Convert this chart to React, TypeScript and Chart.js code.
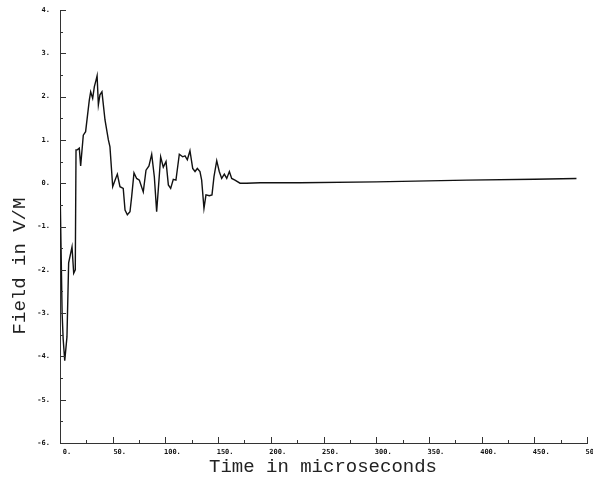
import React, { useEffect, useRef } from "react";
import { Chart, registerables } from "chart.js";

Chart.register(...registerables);

const times = [
  0, 1, 2, 3, 4.5, 6.6, 8.2, 11.4, 13, 14.5, 15.2, 16.4, 18.3, 19.6, 22.1, 24.3, 27.8, 29.1, 31, 32.6,
  34.2, 35.2, 36.4, 37.9, 39.8, 42.7, 45.9, 47.4, 50, 52.2, 54.4, 56.9, 60, 61.7, 63.9, 66.4, 68,
  70.2, 72.7, 75.3, 79, 81.6, 84.4, 87, 89.5, 91.7, 93.9, 95.5, 98, 100.6, 102.8, 105, 107.5, 110,
  113.2, 116.4, 118.6, 120.8, 123.3, 125.9, 128.1, 130.3, 132.8, 134.4, 136.6, 138.5, 141.7, 144.2,
  146.1, 148.7, 151.1, 153.4, 155.9, 158.2, 160.7, 162.9, 166, 170.8, 177, 190, 228, 300, 386, 450, 490,
];
const field = [
  0, -1.5, -3.0, -3.6, -4.1, -3.55, -1.84, -1.47, -2.08, -2.0, 0.77, 0.77, 0.81, 0.4, 1.11, 1.19, 1.92,
  2.11, 1.96, 2.23, 2.38, 2.48, 1.81, 2.04, 2.11, 1.46, 1.0, 0.84, -0.08, 0.07, 0.21, -0.08, -0.12,
  -0.62, -0.73, -0.66, -0.31, 0.24, 0.11, 0.07, -0.2, 0.3, 0.4, 0.67, 0.15, -0.66, 0.07, 0.61, 0.37,
  0.5, -0.04, -0.12, 0.09, 0.07, 0.67, 0.61, 0.63, 0.54, 0.75, 0.34, 0.27, 0.34, 0.27, 0.07, -0.58,
  -0.27, -0.29, -0.27, 0.15, 0.52, 0.27, 0.11, 0.21, 0.11, 0.27, 0.11, 0.07, 0.0, 0.0, 0.01, 0.01,
  0.03, 0.07, 0.09, 0.11,
];
const xTicks = [0, 50, 100, 150, 200, 250, 300, 350, 400, 450, 500];
const yTicks = [4, 3, 2, 1, 0, -1, -2, -3, -4, -5, -6];
const xTitle = "Time in microseconds";
const yTitle = "Field in V/M";

const axisPlugin = {
  id: "plotterAxes",
  afterDraw(chart: any) {
    const ctx = chart.ctx;
    const xs = chart.scales.x;
    const ys = chart.scales.y;
    const area = chart.chartArea;
    ctx.save();
    ctx.strokeStyle = "#333";
    ctx.lineWidth = 1;
    // y ticks (inward), major + half
    for (let i = 0; i < yTicks.length; i++) {
      const v = yTicks[i];
      const py = Math.round(ys.getPixelForValue(v)) + 0.5;
      ctx.beginPath();
      ctx.moveTo(area.left, py);
      ctx.lineTo(area.left + 6, py);
      ctx.stroke();
      if (i < yTicks.length - 1) {
        const ph = Math.round(ys.getPixelForValue(v - 0.5)) + 0.5;
        ctx.beginPath();
        ctx.moveTo(area.left, ph);
        ctx.lineTo(area.left + 3, ph);
        ctx.stroke();
      }
    }
    // x ticks (inward)
    for (let i = 0; i < xTicks.length; i++) {
      const v = xTicks[i];
      const px = Math.round(xs.getPixelForValue(v)) + 0.5;
      ctx.beginPath();
      ctx.moveTo(px, area.bottom);
      ctx.lineTo(px, area.bottom - 6);
      ctx.stroke();
      if (i < xTicks.length - 1) {
        const pm = Math.round(xs.getPixelForValue(v + 25)) + 0.5;
        ctx.beginPath();
        ctx.moveTo(pm, area.bottom);
        ctx.lineTo(pm, area.bottom - 3);
        ctx.stroke();
      }
    }
    // tick labels
    ctx.fillStyle = "#111";
    ctx.font = "bold 7px 'DejaVu Sans Mono'";
    ctx.textBaseline = "middle";
    ctx.textAlign = "right";
    for (const v of yTicks) {
      ctx.fillText(v + ".", area.left - 10, ys.getPixelForValue(v));
    }
    ctx.textAlign = "center";
    for (const v of xTicks) {
      ctx.fillText(v + ".", xs.getPixelForValue(v) + 7, area.bottom + 9);
    }
    // titles
    ctx.font = "19px 'Liberation Mono'";
    ctx.fillStyle = "#222";
    ctx.textAlign = "center";
    ctx.textBaseline = "middle";
    ctx.fillText(xTitle, 323, 467);
    ctx.translate(20, 266);
    ctx.rotate(-Math.PI / 2);
    ctx.fillText(yTitle, 0, 0);
    ctx.restore();
  },
};

export default function App() {
  const ref = useRef<HTMLCanvasElement | null>(null);
  useEffect(() => {
    if (!ref.current) return;
    const chart = new Chart(ref.current, {
      type: "line",
      data: {
        datasets: [
          {
            data: times.map((t, i) => ({ x: t, y: field[i] })),
            borderColor: "#111",
            borderWidth: 1.4,
            pointRadius: 0,
            tension: 0,
            fill: false,
          },
        ],
      },
      options: {
        animation: false,
        responsive: false,
        layout: { padding: { top: 10, right: 6, left: 0, bottom: 0 } },
        plugins: { legend: { display: false }, tooltip: { enabled: false } },
        scales: {
          x: {
            type: "linear",
            min: 0,
            max: 500,
            grid: { display: false },
            ticks: { display: false },
            border: { display: true, color: "#333", width: 1 },
            afterFit: (s: any) => {
              s.height = 41;
            },
          },
          y: {
            type: "linear",
            min: -6,
            max: 4,
            grid: { display: false },
            ticks: { display: false },
            border: { display: true, color: "#333", width: 1 },
            afterFit: (s: any) => {
              s.width = 60;
            },
          },
        },
      },
      plugins: [axisPlugin],
    });
    return () => chart.destroy();
  }, []);
  return (
    <div style={{ position: "absolute", left: 0, top: 0, width: 593, height: 484, background: "#fff" }}>
      <canvas ref={ref} width={593} height={484} />
    </div>
  );
}
